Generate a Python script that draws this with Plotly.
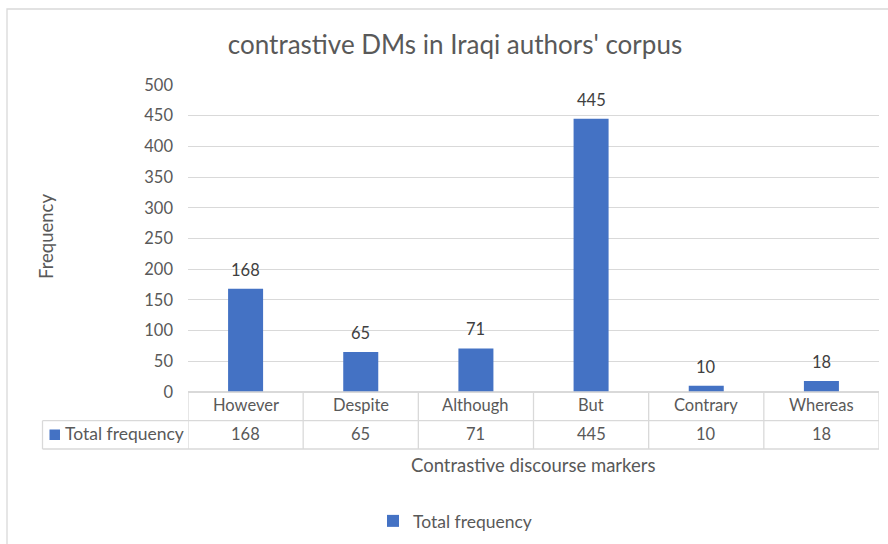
import plotly.graph_objects as go

categories = ["However", "Despite", "Although", "But", "Contrary", "Whereas"]
values = [168, 65, 71, 445, 10, 18]
series_name = "Total frequency"
y_ticks = [0, 50, 100, 150, 200, 250, 300, 350, 400, 450, 500]

W, H = 888, 544
L, R, T, B = 188, 9, 85, 152
PW = W - L - R
PH = H - T - B

def py(px):  # pixel y (from top) -> paper y
    return (H - B - px) / PH

def pxx(px):  # pixel x -> paper x
    return (px - L) / PW

FONT = "Lato"
GRID = "#d9d9d9"
TXT = "#595959"
BAR = "#4472C4"
FS = 16.5

fig = go.Figure()
fig.add_trace(go.Bar(
    x=list(range(len(categories))), y=values, name=series_name,
    marker=dict(color=BAR, line=dict(width=0)),
    width=0.304, showlegend=True,
))

ann = []
shapes = []
n = len(categories)
# data labels
for i, v in enumerate(values):
    ann.append(dict(x=i, y=v, xref="x", yref="y", text=str(v), showarrow=False,
                    yanchor="bottom", yshift=7, font=dict(family=FONT, size=FS, color="#404040")))
# table rows
row1_bot = py(420.7)
row2_bot = py(449)
for i, (c, v) in enumerate(zip(categories, values)):
    ann.append(dict(x=i, y=(0 + row1_bot) / 2, xref="x", yref="paper", text=c, showarrow=False,
                    yanchor="middle", yshift=1, font=dict(family=FONT, size=FS, color=TXT)))
    ann.append(dict(x=i, y=(row1_bot + row2_bot) / 2, xref="x", yref="paper", text=str(v),
                    showarrow=False, yanchor="middle", yshift=1, font=dict(family=FONT, size=FS, color=TXT)))
# table lines
line = dict(color=GRID, width=1.3)
for k in range(n + 1):
    shapes.append(dict(type="line", xref="x", yref="paper", x0=k - 0.5, x1=k - 0.5,
                       y0=0, y1=row2_bot, line=line))
shapes.append(dict(type="line", xref="paper", yref="paper", x0=0, x1=1, y0=0, y1=0, line=line))
shapes.append(dict(type="line", xref="paper", yref="paper", x0=pxx(42.5), x1=1, y0=row1_bot, y1=row1_bot, line=line))
shapes.append(dict(type="line", xref="paper", yref="paper", x0=pxx(42.5), x1=1, y0=row2_bot, y1=row2_bot, line=line))
shapes.append(dict(type="line", xref="paper", yref="paper", x0=pxx(42.5), x1=pxx(42.5), y0=row1_bot, y1=row2_bot, line=line))
# legend key in table header
shapes.append(dict(type="rect", xref="paper", yref="paper", x0=pxx(49.5), x1=pxx(60),
                   y0=py(440), y1=py(429.5), fillcolor=BAR, line=dict(width=0)))
ann.append(dict(x=pxx(63), y=(row1_bot + row2_bot) / 2, xref="paper", yref="paper",
                text=series_name, showarrow=False, xanchor="left", yanchor="middle", yshift=1,
                font=dict(family=FONT, size=17.5, color=TXT)))
# axis titles
ann.append(dict(x=pxx(533), y=py(466), xref="paper", yref="paper", text="Contrastive discourse markers",
                showarrow=False, yanchor="middle", yshift=1, font=dict(family=FONT, size=18.5, color=TXT)))
ann.append(dict(x=pxx(46), y=py(237), xref="paper", yref="paper", text="Frequency", textangle=-90,
                showarrow=False, xanchor="center", yanchor="middle", font=dict(family=FONT, size=18.5, color=TXT)))
# outer chart border
shapes.append(dict(type="rect", xref="paper", yref="paper", x0=pxx(7), x1=pxx(900),
                   y0=py(560), y1=py(9), line=dict(color=GRID, width=1.3), layer="below"))

fig.update_layout(
    width=W, height=H,
    margin=dict(l=L, r=R, t=T, b=B, autoexpand=False),
    paper_bgcolor="white", plot_bgcolor="white",
    title=dict(text="contrastive DMs in Iraqi authors' corpus", x=455 / W, xanchor="center",
               y=1 - 45 / H, yanchor="middle", font=dict(family=FONT, size=26, color=TXT)),
    xaxis=dict(range=[-0.5, n - 0.5], showticklabels=False, showgrid=False, zeroline=False,
               showline=False, fixedrange=True, automargin=False),
    yaxis=dict(range=[0, 500], tickvals=y_ticks, showgrid=True, gridcolor=GRID, gridwidth=1.3,
               zeroline=True, zerolinecolor=GRID, showline=False, ticks="", ticklabelstandoff=14,
               tickfont=dict(family=FONT, size=FS, color=TXT), automargin=False),
    legend=dict(orientation="h", x=pxx(373), xanchor="left", y=py(521), yanchor="middle",
                font=dict(family=FONT, size=17.5, color=TXT)),
    annotations=ann, shapes=shapes,
    font=dict(family=FONT),
)

fig.write_html("out.html")
